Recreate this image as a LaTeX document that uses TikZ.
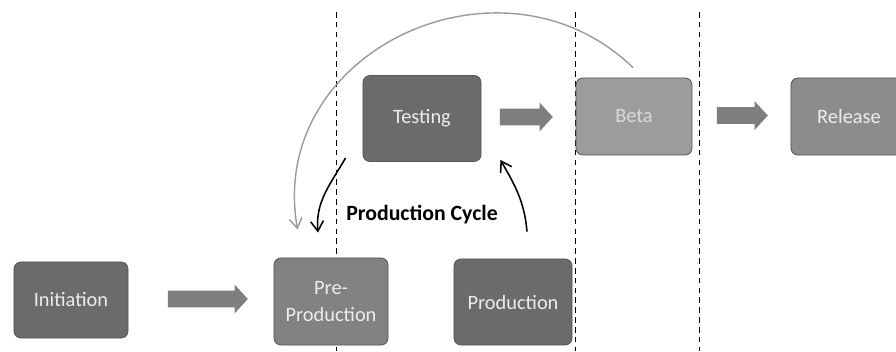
\documentclass[tikz,border=0pt]{standalone}
\usepackage{fontspec}
\setmainfont{Carlito}
\usetikzlibrary{shapes.arrows,arrows.meta,calc}
\definecolor{darkbox}{HTML}{6B6B6B}
\definecolor{midbox}{HTML}{828282}
\definecolor{lightbox}{HTML}{9C9C9C}
\definecolor{relbox}{HTML}{8C8C8C}
\definecolor{boxline}{HTML}{575757}
\definecolor{flowgray}{HTML}{7E7E7E}
\definecolor{arcgray}{HTML}{9A9A9A}
\tikzstyle{box1}=[draw=boxline,line width=0.6pt,rounded corners=5pt,fill=darkbox,text=white!93!black,align=center,inner sep=0pt,font=\fontsize{14.5}{19.5}\selectfont]

\begin{document}
\begin{tikzpicture}[x=0.025cm,y=0.025cm]

\tikzstyle{phase}=[box1,minimum width=2.95cm,minimum height=2.15cm]
\tikzstyle{flow}=[single arrow,fill=flowgray,draw=none,inner xsep=0pt,inner ysep=0.2cm,minimum width=0.7cm,single arrow head extend=0.15cm,single arrow tip angle=95]
\tikzstyle{cycle}=[-{Straight Barb[length=2.5mm,width=3.2mm]},line width=1.1pt]
\tikzstyle{backarc}=[cycle,draw=arcgray,line width=1pt]
\tikzstyle{divider}=[dash pattern=on 4pt off 3pt,line width=0.6pt]

\clip (0,0) rectangle (896,-351);

% dividers between the stages
\foreach \x in {336,575,699}
  \draw[divider] (\x,-12) -- (\x,-351);

\node (Init) [box1,minimum width=2.85cm,minimum height=1.9cm] at (71,-300) {Initiation};
\node (PreProd) [box1,fill=midbox,minimum width=2.85cm,minimum height=2.175cm] at (331,-301.5) {Pre-\\Production};
\node (Prod) [phase] at (513,-302) {Production};
\node (Test) [phase] at (422,-118.5) {Testing};
\node (Beta) [box1,fill=lightbox,text=white!85!black,minimum width=2.9cm,minimum height=1.925cm] at (634,-116.5) {Beta};
\node (Rel) [box1,fill=relbox,minimum width=2.9cm,minimum height=1.925cm] at (849,-116.5) {Release};

% block arrows
\node (InitFlow) [flow,minimum height=2cm] at (204,-299) {};
\node (TestFlow) [flow,minimum height=1.325cm] at (522.5,-117) {};
\node (BetaFlow) [flow,minimum height=1.275cm] at (738.5,-115.5) {};

\node (CycleLabel) [font=\fontsize{15.5}{18}\selectfont\bfseries] at (422,-215) {Production Cycle};

\draw[cycle] ($(Test.south west)+(-17,4)$) to[out=240,in=95] ($(PreProd.north)+(-13,25)$);
\draw[cycle] ($(Prod.north)+(14,27)$) to[out=95,in=-60] ($(Test.south east)+(19,2)$);
\draw[backarc] ($(Beta.north)+(-1,10)$) to[out=136,in=100,looseness=1.25] ($(PreProd.north west)+(24,28)$);

\end{tikzpicture}
\end{document}
